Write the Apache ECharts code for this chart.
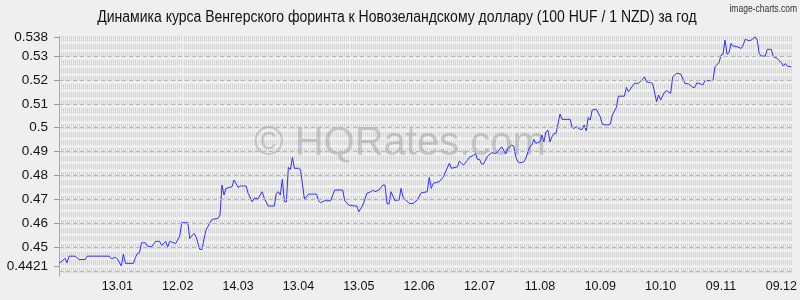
<!DOCTYPE html>
<html>
<head>
<meta charset="utf-8">
<script src="https://cdn.jsdelivr.net/npm/echarts@6/dist/echarts.min.js"></script>
<style>
html,body{margin:0;padding:0;background:#efefef;}
#c{width:800px;height:300px;}
</style>
</head>
<body>
<div id="c"></div>
<script>
// Day index (1 = first day of the period, 30 = 13.01, ... 360 = 09.12)
const days = [1,2,4,5,6,9,11,14,15,26,27,29,30,32,33,34,38,39,40,41,42,44,45,47,49,51,52,54,55,56,59,61,62,65,66,68,69,71,72,74,77,80,81,82,83,84,87,88,90,91,94,95,97,98,100,102,103,105,108,109,110,111,112,113,114,115,116,117,118,120,121,123,125,129,130,131,133,136,138,142,143,145,148,149,150,152,154,156,157,158,160,162,163,164,165,166,168,169,170,171,172,173,175,177,179,181,184,185,186,187,190,192,195,196,199,200,202,204,205,207,208,209,210,211,212,214,216,218,219,221,223,224,226,227,228,229,230,232,233,235,236,237,238,240,241,242,243,244,245,246,247,248,250,251,255,256,257,258,260,261,262,263,264,265,266,268,270,271,273,275,276,278,279,282,283,284,286,287,289,291,292,293,295,296,298,299,300,302,303,305,306,308,310,312,314,316,317,318,320,321,322,326,327,329,330,331,332,333,334,335,336,338,340,341,342,344,345,347,348,349,350,352,353,355,356,358,360,361,362,363,365];
const rates = [0.4434,0.4438,0.4453,0.4434,0.4462,0.4462,0.4448,0.4448,0.4462,0.4462,0.4451,0.4457,0.4451,0.4421,0.4471,0.4432,0.4432,0.4457,0.4474,0.4476,0.4518,0.4518,0.4504,0.4501,0.4524,0.4524,0.4507,0.4524,0.4501,0.4524,0.4515,0.4546,0.4602,0.4602,0.4536,0.4557,0.4546,0.4490,0.4490,0.4571,0.4616,0.4620,0.4634,0.4760,0.4718,0.4746,0.4753,0.4781,0.4750,0.4756,0.4756,0.4725,0.4690,0.4704,0.4704,0.4732,0.4704,0.4672,0.4672,0.4725,0.4732,0.4718,0.4784,0.4690,0.4690,0.4834,0.4825,0.4876,0.4830,0.4830,0.4825,0.4700,0.4722,0.4722,0.4694,0.4686,0.4694,0.4694,0.4739,0.4739,0.4694,0.4676,0.4672,0.4672,0.4648,0.4676,0.4725,0.4732,0.4739,0.4732,0.4739,0.4760,0.4760,0.4683,0.4680,0.4732,0.4694,0.4697,0.4697,0.4746,0.4708,0.4700,0.4683,0.4683,0.4697,0.4727,0.4732,0.4792,0.4746,0.4767,0.4774,0.4794,0.4851,0.4830,0.4836,0.4861,0.4843,0.4864,0.4876,0.4885,0.4892,0.4867,0.4867,0.4848,0.4848,0.4881,0.4895,0.4892,0.4899,0.4920,0.4890,0.4913,0.4927,0.4923,0.4878,0.4857,0.4853,0.4857,0.4872,0.4920,0.4927,0.4951,0.4934,0.4941,0.4969,0.4941,0.4983,0.4990,0.4941,0.4962,0.4976,0.4976,0.5057,0.5035,0.5035,0.5001,0.4997,0.5004,0.4993,0.4993,0.5011,0.4987,0.5043,0.5032,0.5074,0.5077,0.5046,0.5015,0.5011,0.5015,0.5053,0.5085,0.5132,0.5132,0.5169,0.5150,0.5174,0.5186,0.5186,0.5202,0.5213,0.5192,0.5188,0.5186,0.5109,0.5137,0.5116,0.5150,0.5155,0.5144,0.5213,0.5228,0.5225,0.5186,0.5183,0.5169,0.5169,0.5188,0.5183,0.5179,0.5197,0.5197,0.5255,0.5272,0.5304,0.5308,0.5367,0.5308,0.5314,0.5353,0.5342,0.5339,0.5332,0.5346,0.5370,0.5364,0.5367,0.5380,0.5367,0.5311,0.5300,0.5300,0.5328,0.5328,0.5297,0.5290,0.5272,0.5258,0.5269,0.5258,0.5255];

const xLabelDays = [30,60,90,120,150,180,210,240,270,300,330,360];
const xLabels = ['13.01','12.02','14.03','13.04','13.05','12.06','12.07','11.08','10.09','10.10','09.11','09.12'];
const yTickValues = [0.4421,0.45,0.46,0.47,0.48,0.49,0.5,0.51,0.52,0.53,0.538];
const yTickLabels = ['0.4421','0.45','0.46','0.47','0.48','0.49','0.5','0.51','0.52','0.53','0.538'];

const titleText = 'Динамика курса Венгерского форинта к Новозеландскому доллару (100 HUF / 1 NZD) за год';

const chart = echarts.init(document.getElementById('c'), null, {renderer: 'canvas'});
chart.setOption({
  backgroundColor: '#efefef',
  animation: false,
  graphic: [
    {type: 'text', x: 397, y: 18, scaleX: 0.875, z: 10,
     style: {text: titleText, align: 'center', verticalAlign: 'middle',
             font: '16px "Liberation Sans", Arial, sans-serif', fill: '#111'}},
    {type: 'text', x: 797, y: 9, scaleX: 0.85, z: 10,
     style: {text: 'image-charts.com', align: 'right', verticalAlign: 'middle',
             font: '10px "Liberation Sans", Arial, sans-serif', fill: '#333'}},
    {type: 'text', left: 'center', top: 124, z: 1, silent: true,
     style: {text: '© HQRates.com', font: '40px "Liberation Sans", Arial, sans-serif', fill: 'rgba(110,110,110,0.3)'}}
  ],
  grid: {left: 59, right: 3, top: 36, bottom: 24, containLabel: false},
  xAxis: {
    type: 'value', min: 1, max: 365, interval: 1,
    axisLine: {show: false},
    axisTick: {show: false},
    axisLabel: {
      customValues: xLabelDays,
      margin: 4,
      fontFamily: '"Liberation Sans", Arial, sans-serif',
      fontSize: 12.5, color: '#111',
      formatter: function (v) { const i = xLabelDays.indexOf(Math.round(v)); return i >= 0 ? xLabels[i] : ''; }
    },
    splitLine: {show: true, lineStyle: {color: '#d3d3d3', width: 1, type: [5, 3]}}
  },
  yAxis: {
    type: 'value', min: 0.4379, max: 0.5384,
    axisLine: {show: true, lineStyle: {color: '#aaaaaa', width: 1}},
    axisTick: {show: true, customValues: yTickValues, length: 5, lineStyle: {color: '#999'}},
    axisLabel: {
      customValues: yTickValues,
      margin: 11,
      fontFamily: '"Liberation Sans", Arial, sans-serif',
      fontSize: 13.5, color: '#111',
      formatter: function (v) {
        for (let i = 0; i < yTickValues.length; i++) if (Math.abs(v - yTickValues[i]) < 1e-7) return yTickLabels[i];
        return '';
      }
    },
    splitLine: {show: false}
  },
  series: [{
    type: 'line',
    data: days.map((d, i) => [d, rates[i]]),
    showSymbol: false,
    symbol: 'none',
    lineStyle: {color: '#3030ff', width: 1},
    z: 3,
    markLine: {
      silent: true, symbol: 'none', label: {show: false},
      lineStyle: {color: '#b5b5b5', type: [4, 3], width: 1},
      data: yTickValues.map(v => ({yAxis: v}))
    }
  }]
});
</script>
</body>
</html>
